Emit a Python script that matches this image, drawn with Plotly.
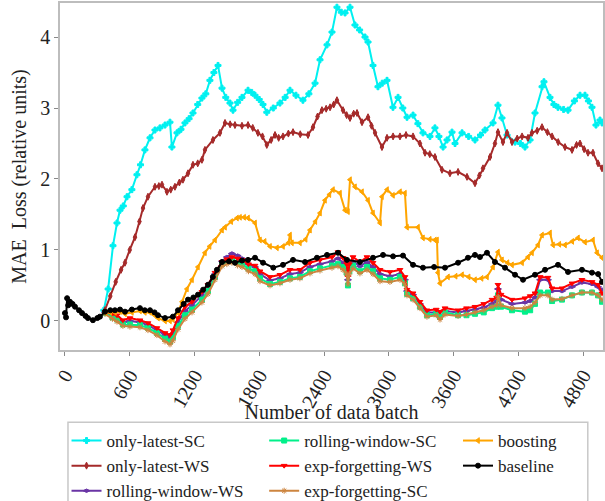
import plotly.graph_objects as go

# ---- data: MAE loss per data batch for each update strategy ----
baseline_x = [0, 10, 20, 30, 46, 70, 93, 130, 158, 190, 213, 259, 300, 324, 371, 420, 463, 510, 556, 620,
              695, 740, 788, 830, 862, 927, 1000, 1047, 1100, 1140, 1190, 1232, 1280, 1325, 1370, 1408, 1455, 1520, 1575, 1640,
              1696, 1761, 1835, 1930, 2020, 2113, 2224, 2335, 2428, 2530, 2613, 2733, 2854, 2947, 3040, 3132, 3225, 3317, 3420, 3521,
              3642, 3734, 3799, 3845, 3910, 3984, 4077, 4170, 4244, 4355, 4448, 4568, 4661, 4790, 4883, 4940, 4976]
baseline_y = [0.11, 0.05, 0.32, 0.22, 0.27, 0.24, 0.20, 0.15, 0.11, 0.07, 0.04, 0.01, 0.04, 0.06, 0.13, 0.15, 0.15, 0.16, 0.13, 0.16,
              0.18, 0.15, 0.15, 0.12, 0.08, 0.04, 0.06, 0.15, 0.24, 0.30, 0.33, 0.37, 0.44, 0.51, 0.62, 0.72, 0.83, 0.84, 0.82, 0.85,
              0.86, 0.89, 0.82, 0.75, 0.79, 0.86, 0.83, 0.89, 0.93, 0.96, 0.86, 0.83, 0.89, 0.93, 0.91, 0.92, 0.79, 0.75, 0.76, 0.75,
              0.82, 0.89, 0.93, 0.90, 0.96, 0.83, 0.75, 0.65, 0.58, 0.65, 0.72, 0.79, 0.69, 0.72, 0.68, 0.66, 0.55]

ol_sc_x = [360, 400, 445, 482, 510, 540, 575, 620, 667, 700, 741, 788, 834, 880, 927, 973, 991, 1038, 1075, 1112,
           1150, 1186, 1230, 1269, 1305, 1343, 1380, 1418, 1455, 1490, 1529, 1557, 1600, 1640, 1696, 1730, 1761, 1800, 1835, 1870,
           1930, 1992, 2040, 2085, 2140, 2205, 2260, 2317, 2363, 2428, 2474, 2520, 2560, 2595, 2641, 2687, 2730, 2780, 2808, 2854,
           2900, 2940, 2984, 3039, 3086, 3130, 3169, 3225, 3270, 3317, 3382, 3428, 3465, 3503, 3540, 3586, 3614, 3679, 3740, 3799,
           3850, 3892, 3966, 4012, 4049, 4096, 4170, 4220, 4262, 4309, 4355, 4420, 4438, 4494, 4530, 4568, 4620, 4661, 4720, 4772,
           4818, 4850, 4883, 4920, 4957, 4976]
ol_sc_y = [0.15, 0.45, 1.06, 1.38, 1.56, 1.62, 1.75, 1.85, 2.06, 2.20, 2.41, 2.58, 2.69, 2.72, 2.76, 2.80, 2.45, 2.65, 2.70, 2.79,
           2.85, 2.93, 3.05, 3.14, 3.20, 3.39, 3.50, 3.60, 3.28, 3.15, 3.07, 2.97, 3.08, 3.15, 3.25, 3.22, 3.18, 3.12, 3.05, 2.94,
           3.00, 3.07, 3.15, 3.25, 3.18, 3.11, 3.20, 3.35, 3.68, 3.89, 4.07, 4.42, 4.35, 4.34, 4.42, 4.17, 4.10, 4.00, 3.93, 3.60,
           3.30, 3.35, 3.39, 3.01, 3.15, 3.00, 2.87, 2.90, 2.78, 2.65, 2.60, 2.72, 2.60, 2.45, 2.55, 2.66, 2.50, 2.65, 2.60, 2.55,
           2.62, 2.69, 2.79, 3.04, 2.86, 2.62, 2.52, 2.50, 2.45, 2.55, 2.93, 3.30, 3.37, 3.15, 3.05, 3.01, 2.98, 2.97, 3.10, 3.18,
           3.18, 3.10, 3.01, 2.76, 2.83, 2.79]

ol_ws_x = [370, 420, 470, 520, 556, 600, 649, 690, 723, 769, 834, 870, 899, 945, 980, 1019, 1060, 1093, 1140, 1186,
           1230, 1269, 1297, 1371, 1436, 1483, 1530, 1575, 1640, 1696, 1740, 1788, 1830, 1870, 1910, 1946, 1980, 2020, 2070, 2113,
           2180, 2252, 2298, 2340, 2381, 2420, 2456, 2490, 2520, 2576, 2610, 2641, 2675, 2706, 2752, 2808, 2840, 2873, 2937, 2984,
           3040, 3104, 3160, 3225, 3289, 3336, 3380, 3428, 3493, 3567, 3642, 3725, 3799, 3840, 3873, 3938, 3984, 4012, 4058, 4096,
           4142, 4190, 4235, 4290, 4327, 4375, 4420, 4470, 4513, 4570, 4633, 4698, 4740, 4772, 4810, 4846, 4892, 4939, 4976]
ol_ws_y = [0.15, 0.35, 0.55, 0.72, 0.82, 1.00, 1.18, 1.40, 1.59, 1.75, 1.89, 1.90, 1.92, 1.82, 1.85, 1.89, 1.95, 1.99, 2.08, 2.20,
           2.22, 2.27, 2.41, 2.55, 2.65, 2.79, 2.77, 2.76, 2.75, 2.76, 2.72, 2.65, 2.60, 2.48, 2.55, 2.62, 2.58, 2.60, 2.64, 2.66,
           2.63, 2.62, 2.73, 2.88, 2.97, 2.99, 3.01, 3.05, 3.11, 2.97, 2.90, 2.86, 2.92, 2.93, 2.80, 2.87, 2.75, 2.65, 2.45, 2.58,
           2.60, 2.60, 2.62, 2.60, 2.50, 2.37, 2.35, 2.31, 2.13, 2.08, 2.10, 2.03, 1.94, 2.05, 2.15, 2.31, 2.50, 2.66, 2.52, 2.65,
           2.52, 2.57, 2.60, 2.58, 2.65, 2.68, 2.73, 2.66, 2.60, 2.52, 2.45, 2.41, 2.48, 2.50, 2.42, 2.37, 2.37, 2.22, 2.15]

boost_x = [371, 420, 463, 510, 556, 620, 695, 740, 788, 830, 862, 927, 973, 1000, 1047, 1085, 1130, 1177, 1232, 1297,
           1340, 1390, 1455, 1483, 1540, 1594, 1622, 1660, 1696, 1761, 1807, 1850, 1900, 1964, 2020, 2070, 2085, 2103, 2177, 2230,
           2270, 2320, 2363, 2409, 2450, 2483, 2548, 2595, 2622, 2641, 2687, 2752, 2808, 2854, 2919, 2937, 2984, 3039, 3104, 3150,
           3169, 3271, 3317, 3380, 3428, 3447, 3456, 3475, 3549, 3620, 3679, 3740, 3799, 3860, 3910, 3966, 4012, 4049, 4100, 4142,
           4235, 4290, 4327, 4383, 4420, 4494, 4522, 4580, 4633, 4700, 4753, 4818, 4892, 4930, 4976]
boost_y = [0.12, 0.12, 0.12, 0.13, 0.10, 0.12, 0.14, 0.12, 0.12, 0.08, 0.04, 0.00, 0.00, 0.02, 0.12, 0.27, 0.45, 0.58, 0.76, 0.96,
           1.05, 1.14, 1.28, 1.32, 1.40, 1.45, 1.46, 1.46, 1.45, 1.38, 1.14, 1.12, 1.05, 1.03, 1.05, 1.10, 1.21, 1.10, 1.10, 1.15,
           1.28, 1.40, 1.52, 1.70, 1.78, 1.85, 1.80, 1.56, 1.54, 1.99, 1.89, 1.82, 1.70, 1.52, 1.38, 1.75, 1.85, 1.77, 1.82, 1.80,
           1.32, 1.32, 1.17, 1.15, 1.14, 1.14, 0.68, 0.53, 0.62, 0.63, 0.65, 0.62, 0.58, 0.60, 0.62, 0.76, 0.97, 0.86, 0.82, 0.79,
           0.82, 0.90, 0.96, 1.07, 1.21, 1.24, 1.07, 1.08, 1.07, 1.12, 1.17, 1.11, 1.14, 0.96, 0.89]

# the four windowed / forgetting variants share one batch grid
low_x = [371, 440, 482, 537, 602, 695, 769, 852, 927, 973, 1000, 1047, 1112, 1177, 1269, 1325, 1390, 1455, 1500, 1547,
         1600, 1640, 1700, 1761, 1807, 1900, 1992, 2085, 2177, 2270, 2363, 2474, 2530, 2576, 2610, 2622, 2635, 2669, 2733, 2798,
         2854, 2919, 3011, 3104, 3150, 3169, 3225, 3289, 3354, 3440, 3475, 3521, 3642, 3720, 3799, 3880, 3957, 4000, 4012, 4040,
         4142, 4262, 4310, 4355, 4402, 4475, 4513, 4605, 4698, 4790, 4883, 4939, 4976]
ef_ws_y = [0.13, 0.10, 0.08, 0.01, 0.04, 0.01, -0.03, -0.10, -0.17, -0.20, -0.13, 0.04, 0.20, 0.27, 0.41, 0.51, 0.68, 0.83, 0.87, 0.90,
           0.88, 0.86, 0.80, 0.78, 0.70, 0.62, 0.65, 0.72, 0.72, 0.82, 0.86, 0.90, 0.97, 0.89, 0.80, 0.62, 0.80, 0.90, 0.83, 0.90,
           0.82, 0.72, 0.69, 0.72, 0.62, 0.44, 0.39, 0.27, 0.15, 0.16, 0.13, 0.18, 0.15, 0.18, 0.20, 0.24, 0.30, 0.33, 0.51, 0.37,
           0.30, 0.32, 0.35, 0.39, 0.62, 0.61, 0.46, 0.46, 0.53, 0.58, 0.55, 0.51, 0.39]
rw_ws_y = [0.12, 0.08, 0.05, -0.02, 0.00, -0.02, -0.06, -0.13, -0.20, -0.24, -0.18, -0.02, 0.14, 0.22, 0.36, 0.47, 0.66, 0.84, 0.90, 0.95,
           0.92, 0.88, 0.80, 0.76, 0.66, 0.57, 0.60, 0.66, 0.68, 0.76, 0.80, 0.84, 0.88, 0.82, 0.74, 0.58, 0.74, 0.84, 0.77, 0.83,
           0.76, 0.66, 0.63, 0.66, 0.58, 0.42, 0.37, 0.24, 0.12, 0.12, 0.06, 0.14, 0.12, 0.14, 0.16, 0.19, 0.24, 0.28, 0.45, 0.30,
           0.24, 0.26, 0.28, 0.33, 0.58, 0.58, 0.42, 0.42, 0.48, 0.54, 0.52, 0.48, 0.44]
rw_sc_y = [0.11, 0.05, 0.02, -0.05, -0.05, -0.06, -0.10, -0.17, -0.25, -0.29, -0.23, -0.07, 0.08, 0.16, 0.30, 0.42, 0.62, 0.80, 0.84, 0.86,
           0.82, 0.80, 0.74, 0.70, 0.60, 0.52, 0.55, 0.60, 0.62, 0.70, 0.74, 0.78, 0.80, 0.76, 0.68, 0.50, 0.70, 0.78, 0.70, 0.76,
           0.70, 0.60, 0.58, 0.62, 0.53, 0.38, 0.32, 0.20, 0.08, 0.10, 0.06, 0.12, 0.08, 0.08, 0.10, 0.12, 0.18, 0.20, 0.36, 0.20,
           0.15, 0.13, 0.15, 0.24, 0.40, 0.40, 0.28, 0.30, 0.36, 0.40, 0.40, 0.36, 0.27]
ef_sc_y = [0.10, 0.03, -0.01, -0.07, -0.08, -0.09, -0.13, -0.20, -0.29, -0.33, -0.28, -0.12, 0.03, 0.12, 0.26, 0.38, 0.58, 0.77, 0.80, 0.82,
           0.78, 0.76, 0.70, 0.66, 0.56, 0.50, 0.53, 0.58, 0.60, 0.67, 0.71, 0.75, 0.77, 0.72, 0.66, 0.52, 0.66, 0.74, 0.67, 0.72,
           0.66, 0.56, 0.55, 0.58, 0.52, 0.36, 0.30, 0.18, 0.06, 0.08, 0.02, 0.09, 0.07, 0.09, 0.12, 0.15, 0.20, 0.22, 0.34, 0.22,
           0.18, 0.18, 0.20, 0.26, 0.36, 0.36, 0.30, 0.31, 0.36, 0.40, 0.40, 0.36, 0.30]

x_ticks = [0, 600, 1200, 1800, 2400, 3000, 3600, 4200, 4800]
y_ticks = [0, 1, 2, 3, 4]

# name, x, y, colour, marker symbol, legend column
series = [
    ("only-latest-SC", ol_sc_x, ol_sc_y, "#00f0f0", "cross", "legend"),
    ("only-latest-WS", ol_ws_x, ol_ws_y, "#a52a2a", "diamond-tall", "legend"),
    ("rolling-window-WS", low_x, rw_ws_y, "#6a35a5", "diamond-wide", "legend"),
    ("rolling-window-SC", low_x, rw_sc_y, "#00f08a", "square", "legend2"),
    ("exp-forgetting-WS", low_x, ef_ws_y, "#ff0000", "triangle-down", "legend2"),
    ("exp-forgetting-SC", low_x, ef_sc_y, "#cd853f", "asterisk-open", "legend2"),
    ("boosting", boost_x, boost_y, "#ffa500", "triangle-left", "legend3"),
    ("baseline", baseline_x, baseline_y, "#000000", "circle", "legend3"),
]

FONT = "Liberation Serif"
INK = "#222"

fig = go.Figure()
for name, xs, ys, col, sym, leg in series:
    fig.add_trace(go.Scatter(
        x=xs, y=ys, name=name, mode="lines+markers",
        line=dict(color=col, width=2),
        marker=dict(symbol=sym, size=5, color=col, line=dict(color=col, width=1)),
        legend=leg,
    ))

axis_common = dict(showline=True, linecolor="#bdbdbd", linewidth=1.5, mirror=True, automargin=False,
                   ticks="outside", ticklen=4, tickcolor="#888", showgrid=False, zeroline=False,
                   tickfont=dict(family=FONT, size=20, color=INK))


def column_legend(x):
    # one vertical legend per column; the shared frame is drawn as a shape
    return dict(orientation="v", x=x, xref="paper", xanchor="left",
                y=0.1557, yref="container", yanchor="top",
                bgcolor="rgba(0,0,0,0)", borderwidth=0, tracegroupgap=0, itemwidth=30,
                font=dict(family=FONT, size=17, color=INK))


fig.update_layout(
    width=605, height=501,
    margin=dict(l=60, r=2, t=3, b=151),
    paper_bgcolor="white", plot_bgcolor="white",
    font=dict(family=FONT, size=17, color=INK),
    showlegend=True,
    legend=column_legend(0.012),
    legend2=column_legend(0.376),
    legend3=column_legend(0.733),
    shapes=[dict(type="rect", xref="paper", yref="paper", x0=0.0147, x1=0.972, y0=-0.46, y1=-0.208,
                 line=dict(color="#c8c8c8", width=1.5), fillcolor="rgba(0,0,0,0)", layer="above")],
)
fig.update_xaxes(range=[-46, 4985], tickvals=x_ticks, ticktext=[str(v) for v in x_ticks], tickangle=-60,
                 title=dict(text="Number of data batch", font=dict(family=FONT, size=20, color=INK), standoff=0),
                 **axis_common)
fig.update_yaxes(range=[-0.41, 4.48], tickvals=y_ticks, ticktext=[str(v) for v in y_ticks],
                 title=dict(text="MAE\u00a0 Loss (relative units)", font=dict(family=FONT, size=20, color=INK), standoff=8),
                 **axis_common)

fig.write_html("out.html")
